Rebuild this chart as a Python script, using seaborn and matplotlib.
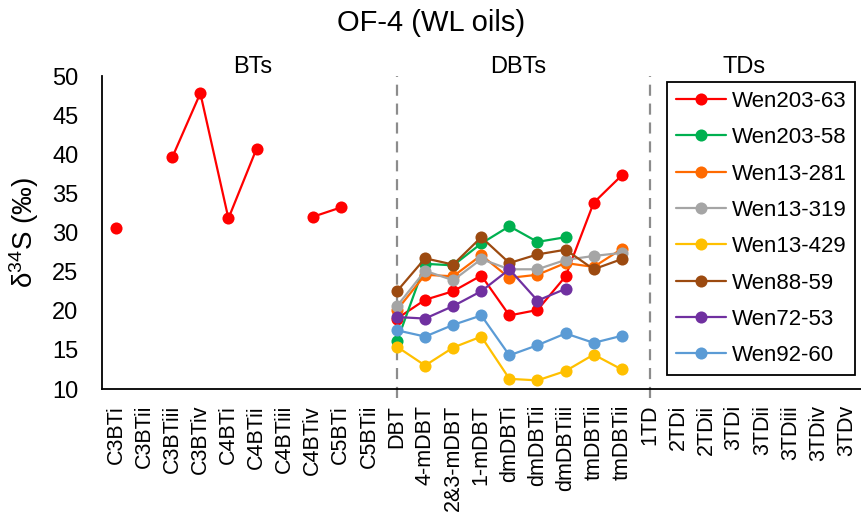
import numpy as np
import pandas as pd
import matplotlib
matplotlib.use("Agg")
import matplotlib.pyplot as plt
from matplotlib.lines import Line2D
import seaborn as sns

# Compound categories along the x axis
categories = [
    "C3BTi", "C3BTii", "C3BTiii", "C3BTiv", "C4BTi", "C4BTii", "C4BTiii", "C4BTiv", "C5BTi", "C5BTii",
    "DBT", "4-mDBT", "2&3-mDBT", "1-mDBT", "dmDBTi", "dmDBTii", "dmDBTiii", "tmDBTii", "tmDBTii",
    "1TD", "2TDi", "2TDii", "3TDi", "3TDii", "3TDiii", "3TDiv", "3TDv",
]
groups = ["BTs", "DBTs", "TDs"]

NA = None
# delta34S values (permil) per oil sample, one entry per category
wen203_63 = [30.6, NA, 39.6, 47.8, 31.8, 40.7, NA, 32.0, 33.2, NA,
             19.0, 21.4, 22.5, 24.5, 19.4, 20.1, 24.4, 33.8, 37.3,
             NA, NA, NA, NA, NA, NA, NA, NA]
wen203_58 = [NA, NA, NA, NA, NA, NA, NA, NA, NA, NA,
             16.1, 26.0, 25.8, 28.6, 30.8, 28.8, 29.4, NA, NA,
             NA, NA, NA, NA, NA, NA, NA, NA]
wen13_281 = [NA, NA, NA, NA, NA, NA, NA, NA, NA, NA,
             20.1, 24.6, 24.4, 27.1, 24.2, 24.6, 26.1, 25.6, 27.9,
             NA, NA, NA, NA, NA, NA, NA, NA]
wen13_319 = [NA, NA, NA, NA, NA, NA, NA, NA, NA, NA,
             20.6, 25.1, 23.9, 26.6, 25.3, 25.3, 26.5, 27.0, 27.4,
             NA, NA, NA, NA, NA, NA, NA, NA]
wen13_429 = [NA, NA, NA, NA, NA, NA, NA, NA, NA, NA,
             15.4, 13.0, 15.3, 16.7, 11.3, 11.1, 12.3, 14.4, 12.5,
             NA, NA, NA, NA, NA, NA, NA, NA]
wen88_59 = [NA, NA, NA, NA, NA, NA, NA, NA, NA, NA,
            22.5, 26.7, 25.9, 29.4, 26.1, 27.2, 27.8, 25.3, 26.6,
            NA, NA, NA, NA, NA, NA, NA, NA]
wen72_53 = [NA, NA, NA, NA, NA, NA, NA, NA, NA, NA,
            19.2, 19.0, 20.6, 22.5, 25.3, 21.3, 22.8, NA, NA,
            NA, NA, NA, NA, NA, NA, NA, NA]
wen92_60 = [NA, NA, NA, NA, NA, NA, NA, NA, NA, NA,
            17.5, 16.7, 18.2, 19.4, 14.3, 15.6, 17.1, 15.9, 16.8,
            NA, NA, NA, NA, NA, NA, NA, NA]

samples = ["Wen203-63", "Wen203-58", "Wen13-281", "Wen13-319",
           "Wen13-429", "Wen88-59", "Wen72-53", "Wen92-60"]
series = [wen203_63, wen203_58, wen13_281, wen13_319,
          wen13_429, wen88_59, wen72_53, wen92_60]
colors = ["#FF0000", "#00B050", "#FF6A00", "#A5A5A5",
          "#FFC000", "#9C4A10", "#7030A0", "#5B9BD5"]

# Long-form table; consecutive non-missing runs get their own segment id
rows = []
for name, vals in zip(samples, series):
    seg = 0
    prev_missing = True
    for i, v in enumerate(vals):
        if v is None:
            prev_missing = True
            continue
        if prev_missing:
            seg += 1
        prev_missing = False
        rows.append({"sample": name, "pos": i, "d34S": v, "seg": f"{name}_{seg}"})
df = pd.DataFrame(rows)

sns.set_style("white")
plt.rcParams["font.family"] = ["Liberation Sans", "DejaVu Sans"]
plt.rcParams["mathtext.fontset"] = "custom"
plt.rcParams["mathtext.rm"] = "Liberation Sans"
plt.rcParams["mathtext.default"] = "regular"
for key in ("text.color", "axes.labelcolor", "xtick.color", "ytick.color"):
    plt.rcParams[key] = "black"

W, H = 862, 517
fig = plt.figure(figsize=(W / 100, H / 100), dpi=100)
ax_top, ax_bottom = 76, 389
ax = fig.add_axes([102 / W, 1 - ax_bottom / H, (W - 102) / W, (ax_bottom - ax_top) / H])

palette = dict(zip(samples, colors))
sns.lineplot(data=df, x="pos", y="d34S", hue="sample", units="seg",
             estimator=None, sort=False, palette=palette, hue_order=samples,
             marker="o", markersize=8.7, markeredgewidth=0, linewidth=1.6,
             legend=False, ax=ax, zorder=3)

# Group separators
for xpos in (10, 19):
    ax.axvline(xpos, ymin=-0.03, ymax=1.0, color="#8C8C8C", lw=1.6,
               ls=(0, (5, 3.5)), clip_on=False, zorder=1)

ax.set_xlim(-0.5, 26.55)
ax.set_ylim(10, 50)
ax.set_yticks(np.arange(10, 51, 5))
ax.set_xticks(range(len(categories)))
ax.set_xticklabels(categories, rotation=90, fontsize=15.5)
ax.tick_params(axis="x", length=4.5, width=1.2, pad=7, color="black", direction="out")
ax.tick_params(axis="y", length=0, pad=17, labelsize=17)
ax.set_xlabel("")
ax.set_ylabel("δ$^{34}$S (‰)", fontsize=20)
ax.yaxis.set_label_coords(-0.08, 0.5)
for s in ("top", "right"):
    ax.spines[s].set_visible(False)
for s in ("left", "bottom"):
    ax.spines[s].set_color("black")
    ax.spines[s].set_linewidth(1.3)

# Group labels above the plot
label_y = (ax_bottom - 67) / (ax_bottom - ax_top)
for label, xc in zip(groups, (4.85, 14.3, 22.35)):
    ax.text(xc, label_y, label, transform=ax.get_xaxis_transform(),
            ha="center", va="center", fontsize=17)

fig.text(0.5, 1 - 23 / H, "OF-4 (WL oils)", ha="center", va="center", fontsize=21)

handles = [Line2D([0], [0], color=c, lw=1.6, marker="o", markersize=8.7,
                  markeredgewidth=0) for c in colors]
leg = fig.legend(handles, samples, loc="upper left",
                 bbox_to_anchor=(667 / W, 1 - 82 / H), fontsize=16,
                 frameon=True, fancybox=False, framealpha=1, edgecolor="black",
                 handlelength=2.25, handletextpad=0.25, labelspacing=0.69,
                 borderpad=0.4, borderaxespad=0)
leg.get_frame().set_linewidth(1.3)

fig.savefig("out.png", dpi=100)
